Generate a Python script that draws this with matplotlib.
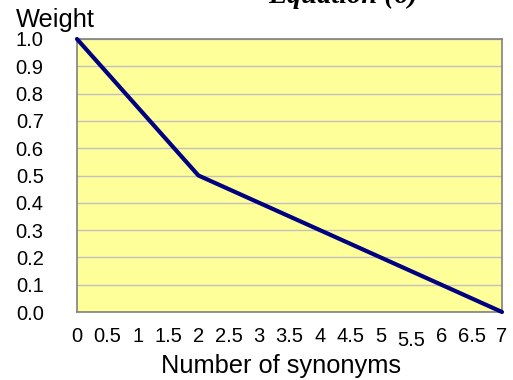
import matplotlib
matplotlib.use("Agg")
import matplotlib.pyplot as plt
import numpy as np

# Data
synonyms = [0, 2, 7]
weights = [1.0, 0.5, 0.0]
x_ticks = [0, 0.5, 1, 1.5, 2, 2.5, 3, 3.5, 4, 4.5, 5, 5.5, 6, 6.5, 7]
x_tick_labels = ["0", "0.5", "1", "1.5", "2", "2.5", "3", "3.5", "4", "4.5",
                 "5", "5.5", "6", "6.5", "7"]
y_ticks = [0.0, 0.1, 0.2, 0.3, 0.4, 0.5, 0.6, 0.7, 0.8, 0.9, 1.0]
y_tick_labels = ["0.0", "0.1", "0.2", "0.3", "0.4", "0.5", "0.6", "0.7",
                 "0.8", "0.9", "1.0"]

W, H = 513, 380
fig = plt.figure(figsize=(W / 100, H / 100), dpi=100)
plt.rcParams['font.family'] = ['Liberation Sans', 'DejaVu Sans']

left, right, top, bottom = 77, 502, 39, 312
ax = fig.add_axes([left / W, (H - bottom) / H, (right - left) / W, (bottom - top) / H])
ax.set_facecolor("#FFFF99")

ax.set_xlim(0, 7)
ax.set_ylim(0, 1)
ax.set_yticks(y_ticks)
ax.set_yticklabels(y_tick_labels, fontsize=14.5)
ax.set_xticks(x_ticks)
ax.set_xticklabels(x_tick_labels, fontsize=14.5)
ax.tick_params(axis='both', length=0)
ax.tick_params(axis='y', pad=24)
ax.tick_params(axis='x', pad=11)
ax.xaxis.get_major_ticks()[11].set_pad(14)

ax.grid(axis='y', color='#C0C0C0', linewidth=1.0)
ax.set_axisbelow(True)
for s in ax.spines.values():
    s.set_color('#808080')
    s.set_linewidth(1.2)

ax.plot(synonyms, weights, color='#000080', linewidth=3.0,
        solid_capstyle='round', solid_joinstyle='round', clip_on=False, zorder=3)

fig.text(16 / W, 1 - 27 / H, "Weight", fontsize=18.3, ha='left', va='baseline')
fig.text(281 / W, 1 - 373 / H, "Number of synonyms", fontsize=18.3,
         ha='center', va='baseline')
fig.text(343 / W, 1 - 3 / H, "Equation (6)", fontsize=20.5,
         family=['Liberation Serif'], fontweight='bold', fontstyle='italic',
         ha='center', va='baseline')

fig.savefig("out.png", dpi=100)
